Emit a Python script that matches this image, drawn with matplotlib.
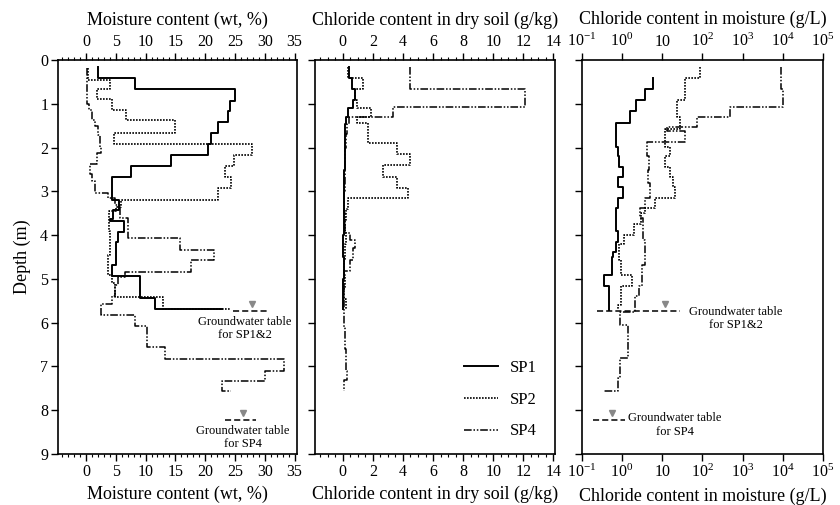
import numpy as np
import matplotlib
matplotlib.use("Agg")
import matplotlib.pyplot as plt
from matplotlib.ticker import MultipleLocator, FixedLocator, FixedFormatter, LogLocator, NullFormatter
from matplotlib.transforms import offset_copy

plt.rcParams["font.family"] = ["Liberation Serif", "DejaVu Serif"]
plt.rcParams["mathtext.fontset"] = "custom"
plt.rcParams["mathtext.rm"] = "Liberation Serif"
plt.rcParams["mathtext.it"] = "Liberation Serif"

# ---- Moisture content (wt, %) : interval tops (m) and values ----
sp1_moist_depth = [0.15, 0.42, 0.67, 0.93, 1.16, 1.41, 1.67, 1.92, 2.17, 2.43, 2.68, 3.19, 3.43, 3.63,
                   3.68, 3.93, 4.15, 4.68, 4.93, 5.43, 5.68]
sp1_moist = [2.1, 8.2, 25.0, 24.2, 23.9, 22.1, 21.0, 20.4, 14.2, 7.5, 4.3, 5.5, 4.6, 4.0,
             6.3, 5.4, 5.0, 4.4, 9.0, 11.6, 22.8]

sp2_moist_depth = [0.19, 0.46, 0.66, 0.89, 1.13, 1.38, 1.67, 1.92, 2.16, 2.41, 2.67, 2.93, 3.19, 3.35,
                   3.45, 3.90, 4.45, 4.90, 5.10, 5.42, 5.69]
sp2_moist = [0.3, 4.1, 1.8, 4.4, 6.8, 14.9, 4.7, 27.8, 24.8, 23.3, 24.3, 22.2, 5.8, 5.0,
             3.8, 4.0, 3.7, 4.3, 4.9, 13.0, 24.2]

sp4_moist_depth = [0.19, 1.00, 1.13, 1.38, 1.50, 1.72, 1.98, 2.13, 2.38, 2.60, 2.77, 3.04, 3.16, 3.31,
                   3.60, 4.07, 4.34, 4.57, 4.84, 4.95, 5.14, 5.40, 5.58, 5.82, 6.08, 6.56, 6.84,
                   7.10, 7.34, 7.57]
sp4_moist = [0.15, 0.55, 1.0, 1.5, 2.1, 2.4, 2.5, 1.8, 0.7, 1.0, 1.5, 3.7, 4.8, 5.7,
             7.1, 15.8, 21.4, 17.7, 6.5, 5.4, 4.9, 4.3, 2.6, 8.3, 10.3, 13.3, 33.2,
             30.1, 22.8, 24.4]

# ---- Chloride content in dry soil (g/kg) ----
sp1_cl_soil_depth = [0.15, 0.42, 0.65, 0.91, 1.10, 1.30, 1.45, 2.00, 2.50, 3.00, 3.50, 4.00, 4.50, 5.00, 5.69]
sp1_cl_soil = [0.45, 0.6, 0.85, 0.7, 0.37, 0.25, 0.18, 0.14, 0.1, 0.07, 0.06, 0.05, 0.06, 0.05, 0.05]

sp2_cl_soil_depth = [0.15, 0.40, 0.65, 0.91, 1.10, 1.29, 1.43, 1.90, 2.15, 2.40, 2.66, 2.93, 3.16, 3.40,
                     3.65, 3.90, 4.20, 4.60, 4.90, 5.20, 5.45, 5.69]
sp2_cl_soil = [0.37, 1.37, 0.82, 0.95, 1.88, 0.95, 1.7, 3.6, 4.47, 2.7, 3.6, 4.36, 0.37, 0.22,
               0.15, 0.2, 0.12, 0.1, 0.15, 0.1, 0.2, 0.2]

sp4_cl_soil_depth = [0.15, 0.65, 1.08, 1.29, 1.45, 1.70, 2.00, 2.50, 3.00, 3.50, 3.95, 4.10, 4.30, 4.57,
                     4.83, 5.20, 5.60, 6.10, 6.60, 7.10, 7.30, 7.57]
sp4_cl_soil = [4.47, 12.1, 3.37, 0.4, 0.3, 0.2, 0.15, 0.12, 0.1, 0.15, 0.5, 0.85, 0.7, 0.5,
               0.1, 0.07, 0.1, 0.15, 0.25, 0.3, 0.1, 0.1]

# ---- Chloride content in moisture (g/L) ----
sp1_cl_water_depth = [0.42, 0.65, 0.91, 1.16, 1.43, 1.98, 2.20, 2.44, 2.66, 2.89, 3.16, 3.39, 3.90, 4.15,
                      4.38, 4.49, 4.91, 5.17, 5.72]
sp1_cl_water = [6.0, 3.8, 2.3, 1.6, 0.71, 0.78, 0.85, 1.05, 0.82, 1.05, 0.8, 0.72, 0.8, 0.7,
                0.6, 0.56, 0.35, 0.49, 0.49]

sp2_cl_water_depth = [0.15, 0.40, 0.91, 1.29, 1.57, 1.98, 2.20, 2.44, 2.66, 2.89, 3.16, 3.39, 3.50, 3.75,
                      4.00, 4.20, 4.57, 4.91, 5.17, 5.60, 5.72]
sp2_cl_water = [88, 37, 23, 28, 12, 16, 12, 16, 19, 21, 6.7, 3.8, 3.0, 2.0,
                1.1, 0.85, 0.97, 1.75, 0.97, 0.82, 0.82]

sp4_cl_water_depth = [0.15, 0.65, 1.08, 1.29, 1.52, 1.62, 1.87, 2.20, 2.50, 2.80, 3.16, 3.39, 3.60, 4.10,
                      4.68, 5.17, 5.40, 5.75, 6.05, 6.81, 7.27, 7.57]
sp4_cl_water = [8900, 10300, 490, 72, 13, 37, 4.2, 4.8, 4.5, 4.9, 3.8, 2.8, 3.3, 3.7,
                3.1, 2.6, 2.1, 0.9, 1.45, 0.9, 0.82, 0.35]

# ---- Groundwater tables ----
gw_depth_sp12 = 5.74
gw_depth_sp4 = 8.23
gw_moist_sp12 = [24.7, 30.3, 27.8]      # line start, line end, marker
gw_moist_sp4 = [23.3, 28.6, 26.3]
gw_water_sp12 = [0.236, 28.0, 11.8]
gw_water_sp4 = [0.19, 1.19, 0.56]

labels = ["SP1", "SP2", "SP4"]
styles = ["-", (0, (1, 0.8)), (0, (5, 1.2, 1, 1.2, 1, 1.2))]
widths = [1.4, 1.2, 1.1]

depth_ticks = list(range(0, 10))
log_ticks = [1e-1, 1e0, 1e1, 1e2, 1e3, 1e4, 1e5]
log_tick_labels = [r"$10^{-1}$", r"$10^{0}$", "10", r"$10^{2}$", r"$10^{3}$", r"$10^{4}$", r"$10^{5}$"]


def profile(depths, values):
    """Vertical step profile: each value holds from its depth to the next."""
    d = np.asarray(depths, float)
    v = np.asarray(values, float)
    return np.repeat(v, 2)[:-1], np.repeat(d, 2)[1:]


fig = plt.figure(figsize=(8.4, 5.05), dpi=100)
H = 0.780
B = 0.101
ax1 = fig.add_axes([0.069, B, 0.2845, H])
ax2 = fig.add_axes([0.375, B, 0.2857, H])
ax3 = fig.add_axes([0.6925, B, 0.2873, H])

panels = [
    (ax1, [(sp1_moist_depth, sp1_moist), (sp2_moist_depth, sp2_moist), (sp4_moist_depth, sp4_moist)],
     "Moisture content (wt, %)"),
    (ax2, [(sp1_cl_soil_depth, sp1_cl_soil), (sp2_cl_soil_depth, sp2_cl_soil), (sp4_cl_soil_depth, sp4_cl_soil)],
     "Chloride content in dry soil (g/kg)"),
    (ax3, [(sp1_cl_water_depth, sp1_cl_water), (sp2_cl_water_depth, sp2_cl_water),
           (sp4_cl_water_depth, sp4_cl_water)],
     "Chloride content in moisture (g/L)"),
]

for ax, series, label in panels:
    for (d, v), lab, ls, lw in zip(series, labels, styles, widths):
        x, y = profile(d, v)
        ax.plot(x, y, color="black", linestyle=ls, linewidth=lw, label=lab)
    ax.set_ylim(9, 0)
    ax.yaxis.set_major_locator(FixedLocator(depth_ticks))
    ax.tick_params(axis="both", which="both", direction="out", top=True, bottom=True,
                   labeltop=True, labelbottom=True, labelsize=11.5, width=1.0)
    ax.tick_params(axis="both", which="major", length=5, pad=2)
    ax.tick_params(axis="x", which="minor", length=2.5, width=0.8)
    ax.set_xlabel(label, fontsize=13, labelpad=4.5)
    ax.set_title(label, fontsize=13, pad=6.5)
    for s in ax.spines.values():
        s.set_linewidth(1.2)
    if ax is not ax1:
        ax.tick_params(axis="y", labelleft=False)

ax1.set_xlim(-4.7, 35.4)
ax1.xaxis.set_major_locator(MultipleLocator(5))
ax1.xaxis.set_minor_locator(MultipleLocator(1))
ax1.set_ylabel("Depth (m)", fontsize=13, labelpad=7)

ax2.set_xlim(-1.84, 14.1)
ax2.xaxis.set_major_locator(MultipleLocator(2))
ax2.xaxis.set_minor_locator(MultipleLocator(0.5))

ax3.set_xscale("log")
ax3.set_xlim(1e-1, 1e5)
ax3.xaxis.set_major_locator(FixedLocator(log_ticks))
ax3.xaxis.set_major_formatter(FixedFormatter(log_tick_labels))
ax3.xaxis.set_minor_locator(LogLocator(base=10, subs=np.arange(2, 10)))
ax3.xaxis.set_minor_formatter(NullFormatter())
ax3.tick_params(axis="x", which="both", labeltop=True, labelbottom=True)

# Groundwater tables: dashed level line, grey triangle above it, caption below
gw_sets = [
    (ax1, gw_moist_sp12, gw_depth_sp12, "Groundwater table\nfor SP1&2", 26.7, 5.84),
    (ax1, gw_moist_sp4, gw_depth_sp4, "Groundwater table\nfor SP4", 26.3, 8.34),
    (ax3, gw_water_sp12, gw_depth_sp12, "Groundwater table\nfor SP1&2", 680, 5.62),
    (ax3, gw_water_sp4, gw_depth_sp4, "Groundwater table\nfor SP4", 21, 8.05),
]
for ax, xs, depth, text, tx, ty in gw_sets:
    ax.plot(xs[:2], [depth, depth], color="black", linestyle=(0, (4, 2)), linewidth=1.1)
    tri = offset_copy(ax.transData, fig=fig, x=0, y=5, units="points")
    ax.plot([xs[2]], [depth], marker="v", markersize=5, color="#888888", linestyle="none", transform=tri)
    ax.text(tx, ty, text, ha="center", va="top", fontsize=9, linespacing=1.15)

ax2.legend(loc="lower right", bbox_to_anchor=(0.95, 0.02), frameon=False, fontsize=12,
           handlelength=2.0, handletextpad=0.7, labelspacing=0.95, borderaxespad=0)

fig.savefig("out.png", dpi=100)
